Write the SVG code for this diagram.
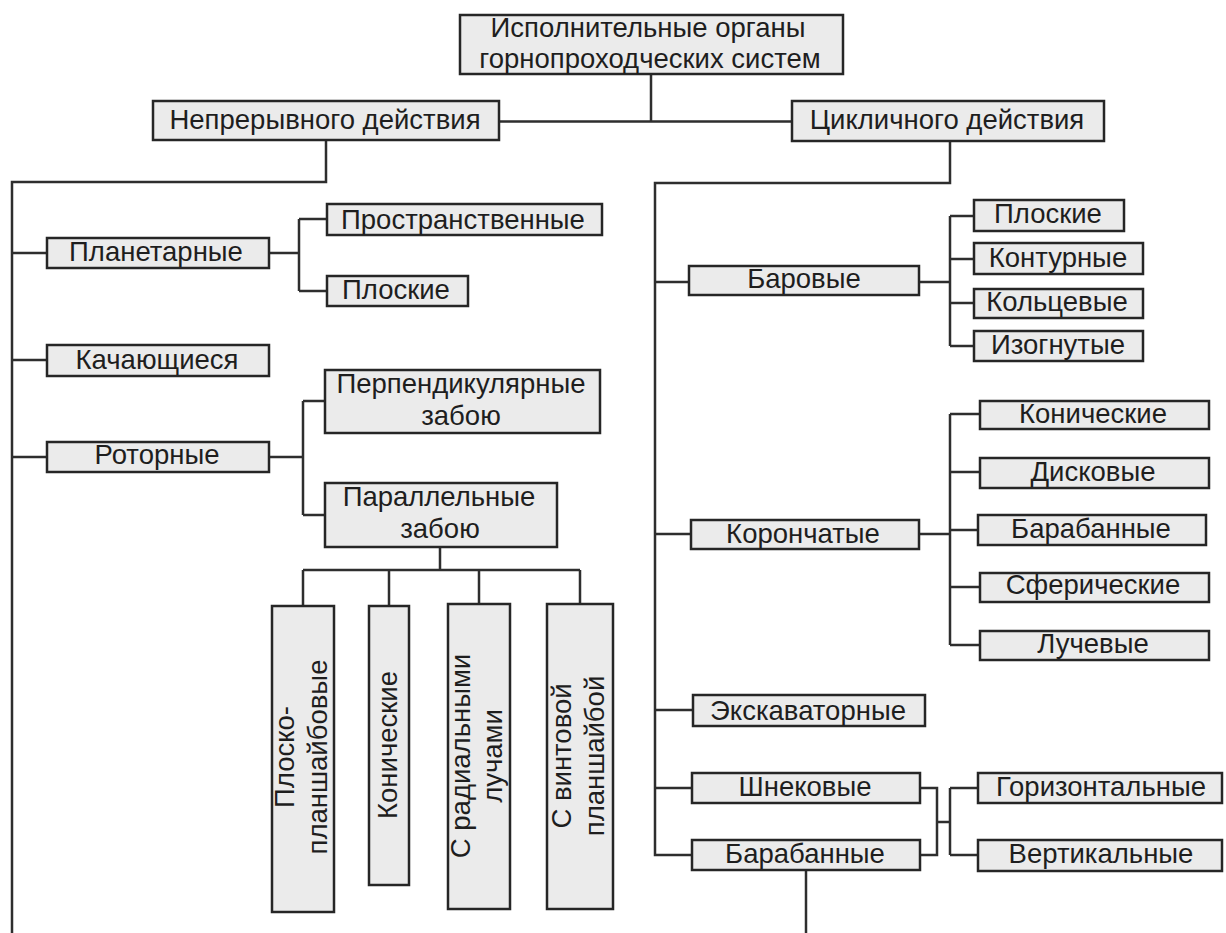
<svg xmlns="http://www.w3.org/2000/svg" width="1226" height="933" viewBox="0 0 1226 933">
<style>
rect.b{fill:#ebebeb;stroke:#262626;stroke-width:2.5}
text{font-family:"Liberation Sans",Arial,sans-serif;font-size:27.5px;fill:#1e1e1e;text-anchor:middle}
text.v{font-size:27.5px}
.c{fill:none;stroke:#2e2e2e;stroke-width:2.5}
</style>
<rect width="1226" height="933" fill="#fff"/>
<g id="connectors" class="c">
<path d="M651 74V121.5M499 121.5H792"/>
<path d="M326 140V182H12V933"/>
<path d="M950 141V183H655V855H692"/>
<path d="M12 253H47M269 253H299M299 219V291M299 219H327M299 291H327"/>
<path d="M12 360H47"/>
<path d="M12 457H47M269 457H303M303 401V515M303 401H325M303 515H325"/>
<path d="M440 547V570M303 570H580M303 570V606M389 570V606M479 570V604M580 570V604"/>
<path d="M655 282H689M919 282H950M950 216V346M950 216H974M950 259H974M950 303H974M950 346H974"/>
<path d="M655 534H691M919 534H950M950 414V645M950 414H980M950 472H980M950 530H978M950 587H980M950 645H980"/>
<path d="M655 710H693"/>
<path d="M655 788H692M920 788H937V855H920M937 822H950M950 788V855M950 788H978M950 855H978"/>
<path d="M806 870V933"/>
</g>
<g id="n-root"><rect class="b" x="460" y="15" width="383" height="59"/><text x="648" y="37">Исполнительные органы</text><text x="650" y="68">горнопроходческих систем</text></g>
<g id="n-cont"><rect class="b" x="153" y="101" width="346" height="39"/><text x="325" y="129">Непрерывного действия</text></g>
<g id="n-cycl"><rect class="b" x="792" y="101" width="312" height="40"/><text x="947" y="129">Цикличного действия</text></g>
<g id="n-planet"><rect class="b" x="47" y="238" width="222" height="30"/><text x="156" y="261">Планетарные</text></g>
<g id="n-prostr"><rect class="b" x="327" y="204" width="275" height="31"/><text x="463" y="229">Пространственные</text></g>
<g id="n-plosk1"><rect class="b" x="327" y="276" width="141" height="30"/><text x="396" y="299">Плоские</text></g>
<g id="n-kach"><rect class="b" x="47" y="345" width="222" height="31"/><text x="157" y="369">Качающиеся</text></g>
<g id="n-rotor"><rect class="b" x="47" y="442" width="222" height="30"/><text x="157" y="464">Роторные</text></g>
<g id="n-perp"><rect class="b" x="325" y="370" width="275" height="63"/><text x="461" y="393">Перпендикулярные</text><text x="461" y="425">забою</text></g>
<g id="n-par"><rect class="b" x="325" y="483" width="232" height="64"/><text x="439" y="506">Параллельные</text><text x="440" y="538">забою</text></g>
<g id="n-v1"><rect class="b" x="272" y="606" width="62" height="306"/><text class="v" transform="translate(303 757) rotate(-90)"><tspan x="0" y="-9">Плоско-</tspan><tspan x="0" y="24">планшайбовые</tspan></text></g>
<g id="n-v2"><rect class="b" x="369" y="606" width="40" height="279"/><text class="v" transform="translate(389 745) rotate(-90)" y="8">Конические</text></g>
<g id="n-v3"><rect class="b" x="448" y="604" width="62" height="305"/><text class="v" transform="translate(479 756) rotate(-90)"><tspan x="0" y="-9">С радиальными</tspan><tspan x="0" y="23">лучами</tspan></text></g>
<g id="n-v4"><rect class="b" x="547" y="604" width="66" height="305"/><text class="v" transform="translate(580 756) rotate(-90)"><tspan x="0" y="-9">С винтовой</tspan><tspan x="0" y="24">планшайбой</tspan></text></g>
<g id="n-bar"><rect class="b" x="689" y="266" width="230" height="29"/><text x="804" y="288">Баровые</text></g>
<g id="n-plosk2"><rect class="b" x="974" y="200" width="150" height="31"/><text x="1048" y="223">Плоские</text></g>
<g id="n-kont"><rect class="b" x="974" y="243" width="169" height="31"/><text x="1058" y="267">Контурные</text></g>
<g id="n-kolc"><rect class="b" x="974" y="289" width="169" height="29"/><text x="1057" y="311">Кольцевые</text></g>
<g id="n-izog"><rect class="b" x="974" y="331" width="169" height="30"/><text x="1058" y="354">Изогнутые</text></g>
<g id="n-koron"><rect class="b" x="691" y="520" width="228" height="29"/><text x="803" y="543">Корончатые</text></g>
<g id="n-konich"><rect class="b" x="980" y="401" width="229" height="28"/><text x="1093" y="423">Конические</text></g>
<g id="n-disk"><rect class="b" x="980" y="458" width="229" height="30"/><text x="1093" y="481">Дисковые</text></g>
<g id="n-baraban1"><rect class="b" x="978" y="515" width="228" height="30"/><text x="1091" y="538">Барабанные</text></g>
<g id="n-sfer"><rect class="b" x="980" y="573" width="229" height="29"/><text x="1093" y="594">Сферические</text></g>
<g id="n-luch"><rect class="b" x="980" y="631" width="229" height="29"/><text x="1093" y="653">Лучевые</text></g>
<g id="n-ekskav"><rect class="b" x="693" y="695" width="232" height="31"/><text x="808" y="720">Экскаваторные</text></g>
<g id="n-shnek"><rect class="b" x="692" y="773" width="228" height="30"/><text x="805" y="796">Шнековые</text></g>
<g id="n-baraban2"><rect class="b" x="692" y="840" width="228" height="30"/><text x="805" y="863">Барабанные</text></g>
<g id="n-goriz"><rect class="b" x="978" y="773" width="244" height="30"/><text x="1101" y="796">Горизонтальные</text></g>
<g id="n-vert"><rect class="b" x="978" y="840" width="244" height="31"/><text x="1101" y="863">Вертикальные</text></g>
</svg>
